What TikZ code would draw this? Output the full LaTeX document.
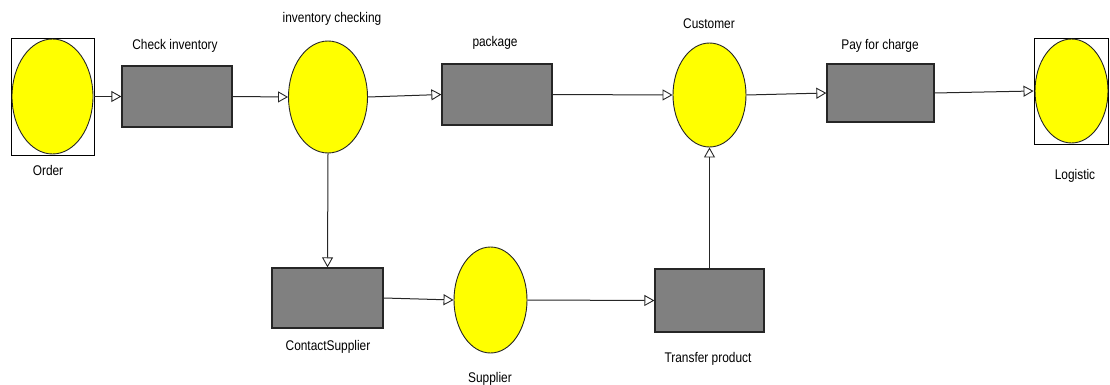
\documentclass[tikz,border=0pt]{standalone}
\usepackage{fontspec}
\setmainfont{Liberation Sans}[FakeStretch=0.85]
\usetikzlibrary{shapes.geometric,arrows.meta}
\definecolor{placefill}{RGB}{255,255,0}
\definecolor{transfill}{RGB}{128,128,128}
\begin{document}
\begin{tikzpicture}[x=1pt,y=-1pt,
  place/.style={ellipse,draw=black!85,line width=0.9pt,fill=placefill,inner sep=0pt},
  trans/.style={rectangle,draw=black!85,line width=1.3pt,fill=transfill,inner sep=0pt},
  frame/.style={rectangle,draw=black,line width=0.9pt,inner sep=0pt},
  lbl/.style={inner sep=0pt,font=\fontsize{14}{16}\selectfont},
  arr/.style={draw=black!85,line width=1pt,-{Triangle[open,length=10pt,width=11pt,line width=0.9pt]}}]
\useasboundingbox (0,0) rectangle (1110,385);
% framed places
\node[frame,minimum width=83pt,minimum height=117pt] (orderbox) at (52.5,96.5) {};
\node[place,minimum width=81pt,minimum height=115pt] (order) at (52.5,96.5) {};
\node[frame,minimum width=74pt,minimum height=106pt] (logbox) at (1071,91) {};
\node[place,minimum width=73pt,minimum height=104pt] (logistic) at (1071.5,91) {};
% places
\node[place,minimum width=79pt,minimum height=112pt] (invc) at (328,97) {};
\node[place,minimum width=73pt,minimum height=104pt] (cust) at (709.5,95) {};
\node[place,minimum width=73pt,minimum height=106pt] (supp) at (490.5,300) {};
% transitions
\node[trans,minimum width=110pt,minimum height=61pt] (checkinv) at (177,96.5) {};
\node[trans,minimum width=110pt,minimum height=61pt] (pkg) at (497,94.5) {};
\node[trans,minimum width=107pt,minimum height=58pt] (pay) at (880.5,93) {};
\node[trans,minimum width=111pt,minimum height=60pt] (contact) at (327.5,298) {};
\node[trans,minimum width=109pt,minimum height=63pt] (transfer) at (709.5,300.5) {};
% labels
\node[lbl] (lorder) at (48,170) {Order};
\node[lbl] (lcheck) at (175,46) {Check inventory};
\node[lbl] (linvc) at (332,19) {inventory checking};
\node[lbl] (lpkg) at (495,43) {package};
\node[lbl] (lcust) at (709,24) {Customer};
\node[lbl] (lpay) at (880,46) {Pay for charge};
\node[lbl] (llog) at (1075,176) {Logistic};
\node[lbl] (lcontact) at (328,347) {ContactSupplier};
\node[lbl] (lsupp) at (490,379) {Supplier};
\node[lbl] (ltransfer) at (708,359) {Transfer product};
% arcs
\draw[arr] (orderbox.east) -- (checkinv.west);
\draw[arr] (checkinv.east) -- (invc.west);
\draw[arr] (invc.east) -- (pkg.west);
\draw[arr] (pkg.east) -- (cust.west);
\draw[arr] (cust.east) -- (pay.west);
\draw[arr] (pay.east) -- (logbox.west);
\draw[arr] (invc.south) -- (contact.north);
\draw[arr] (contact.east) -- (supp.west);
\draw[arr] (supp.east) -- (transfer.west);
\draw[arr] (transfer.north) -- (cust.south);
\end{tikzpicture}
\end{document}
